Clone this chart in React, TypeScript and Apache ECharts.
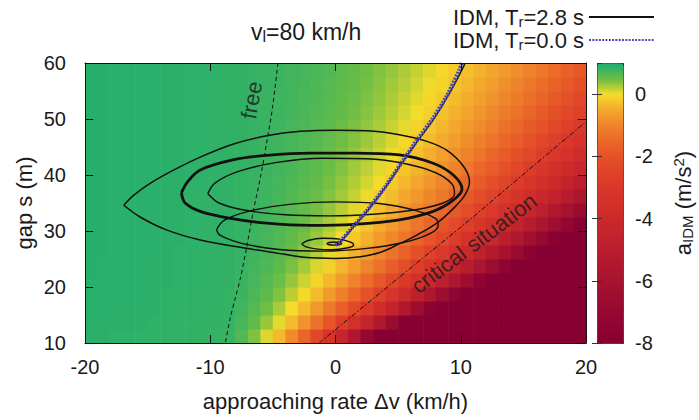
import React, { useEffect, useRef } from 'react';
import * as echarts from 'echarts';

// ---------- heatmap grid (cell centres) ----------
const DV_CENTERS = [-19.5, -18.5, -17.5, -16.5, -15.5, -14.5, -13.5, -12.5, -11.5, -10.5, -9.5, -8.5, -7.5, -6.5, -5.5, -4.5, -3.5, -2.5, -1.5, -0.5, 0.5, 1.5, 2.5, 3.5, 4.5, 5.5, 6.5, 7.5, 8.5, 9.5, 10.5, 11.5, 12.5, 13.5, 14.5, 15.5, 16.5, 17.5, 18.5, 19.5];
const S_CENTERS = [11.25, 13.75, 16.25, 18.75, 21.25, 23.75, 26.25, 28.75, 31.25, 33.75, 36.25, 38.75, 41.25, 43.75, 46.25, 48.75, 51.25, 53.75, 56.25, 58.75];

// a_IDM (m/s^2), one row per Δv column, values listed from s = 11.25 m upward
const A_IDM: number[][] = [
  [0.90, 0.91, 0.92, 0.92, 0.93, 0.93, 0.93, 0.93, 0.93, 0.93, 0.93, 0.93, 0.93, 0.93, 0.93, 0.93, 0.93, 0.93, 0.93, 0.93],
  [0.90, 0.91, 0.92, 0.92, 0.92, 0.92, 0.93, 0.93, 0.93, 0.93, 0.93, 0.93, 0.93, 0.93, 0.93, 0.93, 0.93, 0.93, 0.93, 0.93],
  [0.89, 0.90, 0.91, 0.91, 0.92, 0.92, 0.92, 0.92, 0.92, 0.92, 0.92, 0.92, 0.92, 0.92, 0.92, 0.92, 0.92, 0.92, 0.92, 0.92],
  [0.89, 0.90, 0.91, 0.91, 0.91, 0.91, 0.92, 0.92, 0.92, 0.92, 0.92, 0.92, 0.92, 0.92, 0.92, 0.92, 0.92, 0.92, 0.92, 0.92],
  [0.89, 0.90, 0.90, 0.91, 0.91, 0.91, 0.91, 0.91, 0.91, 0.91, 0.91, 0.91, 0.92, 0.92, 0.92, 0.92, 0.92, 0.92, 0.92, 0.92],
  [0.88, 0.89, 0.90, 0.90, 0.90, 0.90, 0.91, 0.91, 0.91, 0.91, 0.91, 0.91, 0.91, 0.91, 0.91, 0.91, 0.91, 0.91, 0.91, 0.91],
  [0.87, 0.88, 0.89, 0.89, 0.90, 0.90, 0.90, 0.90, 0.90, 0.90, 0.90, 0.90, 0.90, 0.90, 0.90, 0.90, 0.90, 0.90, 0.90, 0.90],
  [0.87, 0.88, 0.88, 0.89, 0.89, 0.89, 0.89, 0.90, 0.90, 0.90, 0.90, 0.90, 0.90, 0.90, 0.90, 0.90, 0.90, 0.90, 0.90, 0.90],
  [0.86, 0.87, 0.88, 0.88, 0.89, 0.89, 0.89, 0.89, 0.89, 0.89, 0.89, 0.89, 0.89, 0.89, 0.89, 0.89, 0.89, 0.89, 0.89, 0.89],
  [0.86, 0.87, 0.87, 0.88, 0.88, 0.88, 0.88, 0.88, 0.88, 0.88, 0.88, 0.89, 0.89, 0.89, 0.89, 0.89, 0.89, 0.89, 0.89, 0.89],
  [0.85, 0.86, 0.87, 0.87, 0.87, 0.87, 0.88, 0.88, 0.88, 0.88, 0.88, 0.88, 0.88, 0.88, 0.88, 0.88, 0.88, 0.88, 0.88, 0.88],
  [0.82, 0.84, 0.85, 0.85, 0.86, 0.86, 0.86, 0.87, 0.87, 0.87, 0.87, 0.87, 0.87, 0.87, 0.87, 0.87, 0.87, 0.87, 0.87, 0.87],
  [0.67, 0.73, 0.77, 0.80, 0.81, 0.82, 0.83, 0.84, 0.84, 0.85, 0.85, 0.85, 0.85, 0.85, 0.86, 0.86, 0.86, 0.86, 0.86, 0.86],
  [0.43, 0.57, 0.65, 0.70, 0.74, 0.76, 0.78, 0.79, 0.80, 0.81, 0.82, 0.82, 0.83, 0.83, 0.83, 0.84, 0.84, 0.84, 0.84, 0.84],
  [0.09, 0.34, 0.49, 0.58, 0.64, 0.68, 0.71, 0.74, 0.75, 0.77, 0.78, 0.79, 0.80, 0.80, 0.81, 0.81, 0.81, 0.82, 0.82, 0.82],
  [-0.35, 0.05, 0.27, 0.42, 0.51, 0.58, 0.62, 0.66, 0.69, 0.71, 0.73, 0.74, 0.75, 0.76, 0.77, 0.78, 0.79, 0.79, 0.80, 0.80],
  [-0.90, -0.33, 0.00, 0.21, 0.35, 0.45, 0.52, 0.57, 0.61, 0.64, 0.67, 0.69, 0.71, 0.72, 0.73, 0.74, 0.75, 0.76, 0.77, 0.77],
  [-1.57, -0.78, -0.32, -0.04, 0.15, 0.29, 0.39, 0.46, 0.52, 0.56, 0.60, 0.62, 0.65, 0.67, 0.68, 0.70, 0.71, 0.72, 0.73, 0.74],
  [-2.38, -1.32, -0.71, -0.33, -0.08, 0.10, 0.23, 0.33, 0.40, 0.46, 0.51, 0.55, 0.58, 0.61, 0.63, 0.65, 0.66, 0.68, 0.69, 0.70],
  [-3.31, -1.95, -1.17, -0.68, -0.35, -0.12, 0.05, 0.18, 0.27, 0.35, 0.41, 0.46, 0.50, 0.54, 0.56, 0.59, 0.61, 0.63, 0.64, 0.66],
  [-4.39, -2.68, -1.69, -1.07, -0.66, -0.37, -0.16, 0.00, 0.12, 0.22, 0.30, 0.36, 0.41, 0.45, 0.49, 0.52, 0.55, 0.57, 0.59, 0.61],
  [-5.63, -3.51, -2.29, -1.52, -1.01, -0.65, -0.39, -0.20, -0.04, 0.07, 0.17, 0.25, 0.31, 0.36, 0.41, 0.45, 0.48, 0.51, 0.53, 0.55],
  [-7.02, -4.45, -2.96, -2.03, -1.41, -0.97, -0.66, -0.42, -0.23, -0.09, 0.03, 0.12, 0.20, 0.26, 0.32, 0.36, 0.40, 0.43, 0.46, 0.49],
  [-8, -5.49, -3.72, -2.60, -1.86, -1.33, -0.95, -0.67, -0.45, -0.27, -0.14, -0.02, 0.07, 0.15, 0.21, 0.27, 0.32, 0.36, 0.39, 0.42],
  [-8, -6.66, -4.56, -3.23, -2.35, -1.73, -1.28, -0.94, -0.68, -0.48, -0.31, -0.18, -0.07, 0.02, 0.10, 0.16, 0.22, 0.27, 0.31, 0.35],
  [-8, -7.96, -5.49, -3.94, -2.90, -2.17, -1.64, -1.25, -0.94, -0.70, -0.51, -0.35, -0.22, -0.12, -0.03, 0.05, 0.12, 0.17, 0.22, 0.27],
  [-8, -8, -6.52, -4.71, -3.51, -2.66, -2.05, -1.59, -1.23, -0.95, -0.73, -0.54, -0.39, -0.27, -0.16, -0.08, 0.00, 0.07, 0.13, 0.18],
  [-8, -8, -7.64, -5.56, -4.17, -3.20, -2.49, -1.95, -1.54, -1.22, -0.96, -0.75, -0.58, -0.44, -0.31, -0.21, -0.12, -0.05, 0.02, 0.08],
  [-8, -8, -8, -6.48, -4.89, -3.78, -2.96, -2.35, -1.88, -1.51, -1.22, -0.98, -0.78, -0.62, -0.48, -0.36, -0.26, -0.17, -0.09, -0.03],
  [-8, -8, -8, -7.49, -5.68, -4.41, -3.48, -2.79, -2.26, -1.84, -1.50, -1.23, -1.00, -0.81, -0.65, -0.52, -0.40, -0.31, -0.22, -0.14],
  [-8, -8, -8, -8, -6.54, -5.10, -4.05, -3.26, -2.66, -2.18, -1.80, -1.49, -1.24, -1.02, -0.85, -0.69, -0.56, -0.45, -0.35, -0.27],
  [-8, -8, -8, -8, -7.46, -5.84, -4.66, -3.78, -3.10, -2.56, -2.13, -1.78, -1.50, -1.25, -1.05, -0.88, -0.74, -0.61, -0.50, -0.40],
  [-8, -8, -8, -8, -8, -6.64, -5.32, -4.33, -3.56, -2.96, -2.48, -2.09, -1.77, -1.50, -1.27, -1.08, -0.92, -0.78, -0.65, -0.55],
  [-8, -8, -8, -8, -8, -7.50, -6.02, -4.92, -4.07, -3.40, -2.86, -2.42, -2.07, -1.76, -1.51, -1.30, -1.12, -0.96, -0.82, -0.70],
  [-8, -8, -8, -8, -8, -8, -6.78, -5.55, -4.61, -3.86, -3.27, -2.78, -2.38, -2.05, -1.77, -1.53, -1.33, -1.15, -1.00, -0.86],
  [-8, -8, -8, -8, -8, -8, -7.60, -6.24, -5.19, -4.36, -3.70, -3.16, -2.72, -2.35, -2.04, -1.78, -1.55, -1.36, -1.19, -1.04],
  [-8, -8, -8, -8, -8, -8, -8, -6.96, -5.80, -4.89, -4.16, -3.57, -3.09, -2.67, -2.33, -2.04, -1.79, -1.58, -1.39, -1.23],
  [-8, -8, -8, -8, -8, -8, -8, -7.74, -6.46, -5.46, -4.66, -4.00, -3.47, -3.02, -2.64, -2.32, -2.05, -1.81, -1.60, -1.43],
  [-8, -8, -8, -8, -8, -8, -8, -8, -7.16, -6.06, -5.18, -4.47, -3.88, -3.38, -2.97, -2.62, -2.32, -2.06, -1.83, -1.64],
  [-8, -8, -8, -8, -8, -8, -8, -8, -7.91, -6.70, -5.74, -4.96, -4.32, -3.77, -3.32, -2.94, -2.61, -2.32, -2.08, -1.86],
];

// ---------- axes ----------
const DV_TICKS = [-20, -10, 0, 10, 20];
const S_TICKS = [10, 20, 30, 40, 50, 60];
const A_TICKS = [-8, -6, -4, -2, 0];
const A_RANGE = [-8, 1];

// ---------- trajectories (Δv km/h, s m) ----------
const TR0_PATH: [number, number][] = [
  [10.1, 60.0], [9.9, 58.8], [8.9, 54.2], [7.8, 50.2], [6.5, 46.2], [5.4, 42.6], [4.0, 38.0], [2.5, 33.6], [1.4, 30.8], [0.4, 28.2], [0.0, 27.5],
];
const TR28_START: [number, number][] = [
  [10.35, 60.0], [10.1, 58.8], [9.0, 54.2], [7.9, 50.2], [6.6, 46.2], [5.45, 42.6], [4.05, 38.0], [2.55, 33.6], [1.45, 30.8], [0.45, 28.2], [0.05, 27.6],
];
const TR28_OUTER: [number, number][] = [
  [-16.9, 34.6], [-16.1, 36.4], [-14.8, 38.5], [-12.9, 40.9], [-10.8, 43.2], [-8.2, 45.5], [-5.5, 47.0], [-2.8, 47.8], [0.0, 48.0], [2.5, 47.9], [5.1, 47.2], [7.3, 46.0], [8.9, 44.4], [10.2, 41.6], [10.7, 38.8], [10.3, 36.3], [9.4, 34.0], [8.2, 31.6], [6.6, 29.4], [5.0, 27.6], [3.6, 26.2], [2.0, 25.4], [0.0, 25.1], [-2.5, 25.3], [-4.2, 25.9], [-7.1, 26.9], [-10.8, 28.4], [-13.5, 30.2], [-15.6, 32.5], [-16.9, 34.6],
];
const TR28_LIMIT: [number, number][] = [
  [-12.3, 36.8], [-11.8, 38.8], [-10.8, 40.9], [-8.2, 42.7], [-5.5, 43.5], [-2.0, 43.9], [1.5, 43.9], [5.1, 43.6], [7.8, 42.1], [9.4, 40.0], [10.1, 37.5], [9.4, 35.5], [7.8, 33.5], [5.1, 32.0], [1.5, 31.2], [-2.0, 31.0], [-5.5, 31.4], [-8.5, 32.3], [-10.8, 33.5], [-12.0, 35.0], [-12.3, 36.8],
];
const TR28_INNER: [number, number][] = [
  [-10.2, 36.7], [-9.6, 38.6], [-7.8, 40.6], [-4.8, 42.2], [-1.0, 43.0], [2.5, 42.9], [5.6, 42.0], [8.0, 40.4], [9.3, 38.4], [9.5, 36.6], [8.6, 35.0], [6.4, 33.8], [3.0, 33.0], [-0.5, 32.7], [-4.0, 32.9], [-7.2, 33.7], [-9.3, 35.0], [-10.2, 36.7],
];
const TR28_MID: [number, number][] = [
  [-9.5, 30.2], [-8.9, 31.9], [-6.8, 33.6], [-3.5, 34.8], [0.0, 35.2], [3.5, 34.9], [6.5, 33.6], [8.0, 32.2], [8.2, 31.0], [7.5, 29.5], [5.5, 28.0], [2.5, 26.9], [-1.0, 26.4], [-4.5, 26.7], [-7.5, 27.8], [-9.2, 29.2], [-9.5, 30.2],
];
const TR28_SMALL: [number, number][] = [
  [-2.7, 27.7], [-2.2, 28.3], [-1.0, 28.7], [0.3, 28.55], [1.2, 28.0], [1.45, 27.5], [1.0, 27.0], [-0.3, 26.65], [-1.6, 26.8], [-2.4, 27.2], [-2.7, 27.7],
];
const TR28_TINY: [number, number][] = [
  [-0.7, 27.75], [-0.5, 27.95], [-0.1, 28.03], [0.3, 27.95], [0.5, 27.75], [0.3, 27.55], [-0.1, 27.47], [-0.5, 27.55], [-0.7, 27.75],
];
const FREE_LINE: [number, number][] = [
  [-4.6, 60], [-5.0, 52.5], [-5.5, 45.7], [-6.0, 39.5], [-6.55, 33.7], [-7.1, 27.0], [-7.6, 21.5], [-8.0, 18.0], [-8.4, 14.5], [-8.8, 10.0],
];
const CRITICAL_LINE: [number, number][] = [
  [-1.3, 10], [3.0, 17.9], [6.0, 23.4], [10.5, 31.6], [15.3, 40.7], [20, 49.5],
];
const ANNOTATIONS = [
  { text: 'free', dv: -6.7, s: 53.4, rotate: 80 },
  { text: 'critical situation', dv: 11.06, s: 27.8, rotate: 37 },
];

const NAME_28 = 'IDM, Tr=2.8 s';
const NAME_00 = 'IDM, Tr=0.0 s';

// ---------- styles ----------
const FONT = '"Liberation Sans", Arial, Helvetica, sans-serif';
const TXT = '#1a1a1a';
const PALETTE = [
  '#870032', '#8e0432', '#960831', '#9e0d30', '#a7132f', '#b0182e', '#ba1e2d', '#c3242c', '#cb2a2b', '#d2302a',
  '#d9372a', '#df4229', '#e55228', '#ea6729', '#ef832b', '#f3a82d', '#f4dc2a', '#6cbd45', '#1cad72',
];

const makeRich = (size: number) => ({
  t: { fontSize: size, lineHeight: 24, fontFamily: FONT, color: TXT, fontWeight: 'normal' as const },
  s: { fontSize: Math.round(size * 0.68), lineHeight: 10, verticalAlign: 'bottom' as const, fontFamily: FONT, color: TXT },
  p: { fontSize: Math.round(size * 0.68), lineHeight: 16, verticalAlign: 'top' as const, fontFamily: FONT, color: TXT },
});

function buildOption() {
  const halfDv = (DV_CENTERS[1] - DV_CENTERS[0]) / 2;
  const halfS = (S_CENTERS[1] - S_CENTERS[0]) / 2;
  const heat: number[][] = [];
  DV_CENTERS.forEach((dv, i) => S_CENTERS.forEach((s, j) => heat.push([dv, s, A_IDM[i][j]])));

  const line = (name: string, data: [number, number][], width: number, color = '#111', type: any = 'solid', smooth = 0.35) => ({
    type: 'line', name, data, xAxisIndex: 0, yAxisIndex: 0, symbol: 'none', showSymbol: false, smooth,
    lineStyle: { color, width, type }, itemStyle: { color }, z: 5, silent: true, clip: true,
  });

  const axisLine = { show: true, onZero: false, lineStyle: { color: '#111', width: 1 } };
  const tick = { show: true, inside: true, length: 8, lineStyle: { color: '#111', width: 1 } };
  const dvMin = DV_TICKS[0], dvMax = DV_TICKS[DV_TICKS.length - 1], dvStep = DV_TICKS[1] - DV_TICKS[0];
  const sMin = S_TICKS[0], sMax = S_TICKS[S_TICKS.length - 1], sStep = S_TICKS[1] - S_TICKS[0];
  const aStep = A_TICKS[1] - A_TICKS[0];

  return {
    animation: false,
    backgroundColor: '#ffffff',
    textStyle: { fontFamily: FONT },
    title: {
      text: '{t|v}{s|l}{t|=80 km/h}', left: 251, top: 20, padding: 0,
      textStyle: { fontSize: 23, fontWeight: 'normal', color: TXT, fontFamily: FONT, rich: makeRich(23) },
    },
    legend: {
      orient: 'vertical', right: 44, top: 6, align: 'right', padding: 0, itemGap: 0,
      itemWidth: 65, itemHeight: 12, selectedMode: false,
      itemStyle: { opacity: 0 },
      data: [NAME_28, NAME_00],
      formatter: (n: string) => (n === NAME_28 ? '{t|IDM, T}{s|r}{t|=2.8 s}' : '{t|IDM, T}{s|r}{t|=0.0 s}'),
      textStyle: { fontSize: 22, color: TXT, fontFamily: FONT, rich: makeRich(22) },
    },
    grid: [
      { left: 85, top: 63, width: 501, height: 280, outerBoundsMode: 'none', containLabel: false },
      { left: 597, top: 63, width: 26, height: 280, outerBoundsMode: 'none', containLabel: false },
    ],
    xAxis: [
      {
        gridIndex: 0, type: 'value', min: dvMin, max: dvMax, interval: dvStep, position: 'bottom', z: 6,
        axisLine, axisTick: tick, splitLine: { show: false },
        axisLabel: { fontSize: 20, color: TXT, margin: 14, fontFamily: FONT },
        name: 'approaching rate Δv (km/h)', nameLocation: 'middle', nameGap: 47, nameMoveOverlap: false,
        nameTextStyle: { fontSize: 22, color: TXT, fontFamily: FONT },
      },
      {
        gridIndex: 0, type: 'value', min: dvMin, max: dvMax, interval: dvStep, position: 'top', z: 6,
        axisLine, axisTick: tick, splitLine: { show: false }, axisLabel: { show: false },
      },
      { gridIndex: 1, type: 'value', min: 0, max: 1, show: false },
    ],
    yAxis: [
      {
        gridIndex: 0, type: 'value', min: sMin, max: sMax, interval: sStep, position: 'left', z: 6,
        axisLine, axisTick: tick, splitLine: { show: false },
        axisLabel: { fontSize: 20, color: TXT, margin: 19, fontFamily: FONT },
        name: 'gap s (m)', nameLocation: 'middle', nameGap: 50, nameRotate: 90, nameMoveOverlap: false,
        nameTextStyle: { fontSize: 22, color: TXT, fontFamily: FONT },
      },
      {
        gridIndex: 0, type: 'value', min: sMin, max: sMax, interval: sStep, position: 'right', z: 6,
        axisLine, axisTick: tick, splitLine: { show: false }, axisLabel: { show: false },
      },
      {
        gridIndex: 1, type: 'value', min: A_RANGE[0], max: A_RANGE[1], interval: aStep, position: 'right', z: 10,
        axisLine: { show: false }, splitLine: { show: false },
        axisTick: { show: true, inside: true, length: 5, lineStyle: { color: '#333', width: 1 } },
        axisLabel: { fontSize: 20, color: TXT, margin: 12, fontFamily: FONT, showMaxLabel: false },
        name: '{t|a}{s|IDM}{t| (m/s}{p|2}{t|)}', nameLocation: 'middle', nameGap: 48, nameRotate: 90, nameMoveOverlap: false,
        nameTextStyle: { fontSize: 22, color: TXT, fontFamily: FONT, rich: makeRich(22) },
      },
      {
        gridIndex: 1, type: 'value', min: A_RANGE[0], max: A_RANGE[1], interval: aStep, position: 'left', z: 10,
        axisLine: { show: false }, splitLine: { show: false }, axisLabel: { show: false },
        axisTick: { show: true, inside: true, length: 5, lineStyle: { color: '#333', width: 1 } },
      },
    ],
    visualMap: {
      type: 'continuous', min: A_RANGE[0], max: A_RANGE[1], dimension: 2, seriesIndex: 0,
      inRange: { color: PALETTE }, left: 597, top: 63, itemWidth: 26, itemHeight: 280,
      calculable: false, hoverLink: false, padding: 0, borderColor: '#222', borderWidth: 1, text: null,
      orient: 'vertical',
    },
    series: [
      {
        type: 'custom', xAxisIndex: 0, yAxisIndex: 0, data: heat, clip: true, silent: true, z: 1,
        encode: { x: 0, y: 1 },
        renderItem: (_p: any, api: any) => {
          const dv = api.value(0), s = api.value(1);
          const a = api.coord([dv - halfDv, s + halfS]);
          const b = api.coord([dv + halfDv, s - halfS]);
          return {
            type: 'rect',
            shape: { x: a[0], y: a[1], width: b[0] - a[0] + 0.6, height: b[1] - a[1] + 0.6 },
            style: { fill: api.visual('color'), stroke: null },
          };
        },
      },
      line('free', FREE_LINE, 1, '#111', [4, 3], 0.3),
      line('critical', CRITICAL_LINE, 1, '#111', [5, 2, 1.5, 2], 0.3),
      line(NAME_28, TR28_START, 1.5),
      line(NAME_28, TR28_OUTER, 1.5),
      line(NAME_28, TR28_LIMIT, 2.8),
      line(NAME_28, TR28_INNER, 1.4),
      line(NAME_28, TR28_MID, 1.4),
      line(NAME_28, TR28_SMALL, 1.4),
      line(NAME_28, TR28_TINY, 1.4),
      line(NAME_00, TR0_PATH, 4, '#4848c0', [2, 1.3], 0.3),
      ...ANNOTATIONS.map((an) => ({
        type: 'scatter', name: an.text, xAxisIndex: 0, yAxisIndex: 0, symbolSize: 0, silent: true, z: 7,
        data: [[an.dv, an.s]],
        label: { show: true, position: 'inside', formatter: an.text, rotate: an.rotate, fontSize: 22, color: TXT, fontFamily: FONT },
      })),
    ],
  };
}

export default function App() {
  const ref = useRef<HTMLDivElement>(null);
  useEffect(() => {
    document.body.style.margin = '0';
    const chart = echarts.init(ref.current as HTMLDivElement, null, { renderer: 'svg' });
    chart.setOption(buildOption() as any);
    return () => chart.dispose();
  }, []);
  return <div ref={ref} style={{ position: 'absolute', left: 0, top: 0, width: 699, height: 420 }} />;
}
